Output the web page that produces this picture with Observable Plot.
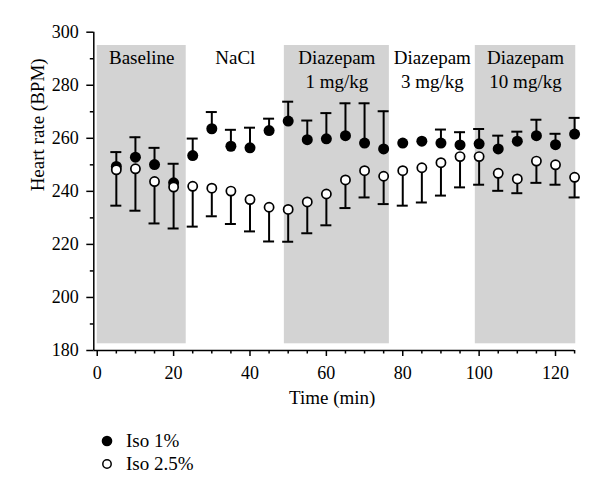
<!DOCTYPE html>
<html><head><meta charset="utf-8">
<script src="https://cdn.jsdelivr.net/npm/d3@7"></script>
<script src="https://cdn.jsdelivr.net/npm/@observablehq/plot@0.6"></script>
<style>
body{margin:0;background:#fff;font-family:"Liberation Serif",serif;}
#legend{position:relative;height:81px;width:600px;}
.row{position:absolute;left:0;height:23px;display:flex;align-items:center;font-size:19px;color:#000;}
.row svg{margin-left:101px;margin-right:13px;}
</style></head><body>
<div id="chart"></div>
<div id="legend"></div>
<script>
// Time points (min)
const times = [5,10,15,20,25,30,35,40,45,50,55,60,65,70,75,80,85,90,95,100,105,110,115,120,125];
// Iso 1%: mean heart rate and SEM (upward bar)
const iso1Mean = [249.4,252.9,250.1,243.2,253.5,263.6,257.0,256.4,262.9,266.5,259.5,259.8,261.0,258.2,256.0,258.2,258.9,258.2,257.5,257.9,256.0,258.9,261.0,257.6,261.6];
const iso1Err  = [5.4,7.5,6.3,7.2,6.4,6.3,6.2,7.6,4.5,7.3,7.2,9.7,12.2,15.0,14.2,0,0,5.1,4.8,5.6,5.0,3.6,6.0,4.1,6.1];
// Iso 2.5%: mean heart rate and SEM (downward bar)
const iso25Mean = [248.1,248.5,243.7,241.6,241.9,241.2,240.1,236.9,234.0,233.2,236.0,239.0,244.3,247.8,245.7,247.8,248.9,250.8,253.1,253.1,246.8,244.7,251.4,250.0,245.3];
const iso25Err  = [13.5,15.8,15.8,15.6,15.2,10.6,12.4,12.0,12.9,12.2,11.8,11.8,10.6,10.1,10.5,13.2,13.1,12.4,11.6,10.6,6.6,5.4,8.2,7.5,7.6];
// Treatment periods
const periodTitle = ["Baseline","NaCl","Diazepam","Diazepam","Diazepam"];
const periodDose  = ["","","1 mg/kg","3 mg/kg","10 mg/kg"];
const periodStart = [0,23.3,49,76.5,99];
const periodEnd   = [23.3,49,76.5,99,125.3];
const periodShaded = [true,false,true,false,true];
// Axis ticks and titles
const yMajorTicks = [180,200,220,240,260,280,300];
const yMinorTicks = [190,210,230,250,270,290];
const xMajorTicks = [0,20,40,60,80,100,120];
const xMinorTicks = [5,10,15,25,30,35,45,50,55,65,70,75,85,90,95,105,110,115,125];
const xTitle = "Time (min)";
const yTitle = "Heart rate (BPM)";
const seriesNames = ["Iso 1%","Iso 2.5%"];

const rows = times.map((t,i)=>({t, m1: iso1Mean[i], e1: iso1Err[i], m2: iso25Mean[i], e2: iso25Err[i]}));
const periods = periodTitle.map((n,i)=>({title:n, dose:periodDose[i], x1:periodStart[i], x2:periodEnd[i], shaded:periodShaded[i]}));
const bars1 = rows.filter(d=>d.e1>0);
const bars2 = rows.filter(d=>d.e2>0);

const chart = Plot.plot({
  width: 600, height: 415,
  marginLeft: 93.3, marginRight: 25.9, marginTop: 31.7, marginBottom: 65,
  x: {domain: [-0.9, 125]},
  y: {domain: [180, 300]},
  style: {fontFamily: "Liberation Serif, serif", fontSize: "18px", color: "#000", background: "#fff", overflow: "visible"},
  marks: [
    Plot.rect(periods.filter(p=>p.shaded), {x1:"x1", x2:"x2", y1:180, y2:300, insetTop:13.3, insetBottom:6.7, fill:"#d3d3d3"}),
    Plot.text(periods, {x: d=>(d.x1+d.x2)/2, text:"title", frameAnchor:"top", lineAnchor:"middle", dy:25.5, fontSize:19}),
    Plot.text(periods.filter(p=>p.dose), {x: d=>(d.x1+d.x2)/2, text:"dose", frameAnchor:"top", lineAnchor:"middle", dy:50, fontSize:19}),
    Plot.ruleX([-0.9], {stroke:"#000", strokeWidth:1.5}),
    Plot.ruleY([180], {stroke:"#000", strokeWidth:1.5}),
    Plot.axisY({ticks: yMajorTicks, tickSize: 7, tickPadding: 8, strokeWidth:1.5, label: null}),
    Plot.axisY({ticks: yMinorTicks, tickSize: 3.5, strokeWidth:1.5, text: null, label: null}),
    Plot.axisX({ticks: xMajorTicks, tickSize: 6, tickPadding: 10, strokeWidth:1.5, label: null}),
    Plot.axisX({ticks: xMinorTicks, tickSize: 3.5, strokeWidth:1.5, text: null, label: null}),
    Plot.text([yTitle], {text: d=>d, frameAnchor:"left", lineAnchor:"middle", rotate:-90, dx:-56, fontSize:19}),
    Plot.text([xTitle], {text: d=>d, frameAnchor:"bottom", lineAnchor:"middle", dx:-2, dy:47, fontSize:19}),
    Plot.ruleX(bars1, {x:"t", y1:"m1", y2: d=>d.m1+d.e1, stroke:"#000", strokeWidth:2}),
    Plot.ruleY(bars1, {y: d=>d.m1+d.e1, x1:"t", x2:"t", insetLeft:-5.5, insetRight:-5.5, stroke:"#000", strokeWidth:2}),
    Plot.ruleX(bars2, {x:"t", y1:"m2", y2: d=>d.m2-d.e2, stroke:"#000", strokeWidth:2}),
    Plot.ruleY(bars2, {y: d=>d.m2-d.e2, x1:"t", x2:"t", insetLeft:-5.5, insetRight:-5.5, stroke:"#000", strokeWidth:2}),
    Plot.dot(rows, {x:"t", y:"m1", r:5.5, fill:"#000", stroke:"none"}),
    Plot.dot(rows, {x:"t", y:"m2", r:4.6, fill:"#fff", stroke:"#000", strokeWidth:1.7})
  ]
});
document.getElementById("chart").appendChild(chart);

const legend = document.getElementById("legend");
seriesNames.forEach((name,i)=>{
  const row = document.createElement("div");
  row.className = "row";
  row.style.top = (14.5 + i*23) + "px";
  const filled = i === 0;
  row.innerHTML = `<svg width="12" height="12" viewBox="-6 -6 12 12"><circle r="${filled?5.3:4.2}" fill="${filled?'#000':'#fff'}" stroke="#000" stroke-width="${filled?0:1.5}"/></svg><span>${name}</span>`;
  legend.appendChild(row);
});
</script>
</body></html>
